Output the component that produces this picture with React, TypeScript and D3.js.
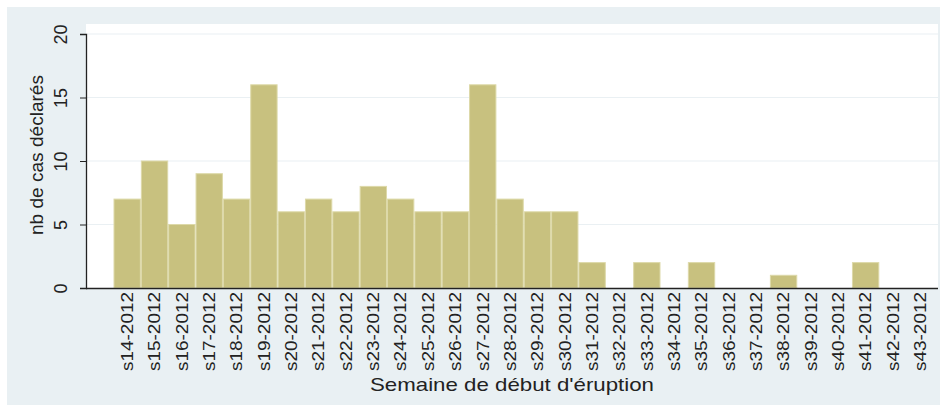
import React, { useRef, useEffect } from "react";
import * as d3 from "d3";

const weeks = [
  "s14-2012", "s15-2012", "s16-2012", "s17-2012", "s18-2012", "s19-2012",
  "s20-2012", "s21-2012", "s22-2012", "s23-2012", "s24-2012", "s25-2012",
  "s26-2012", "s27-2012", "s28-2012", "s29-2012", "s30-2012", "s31-2012",
  "s32-2012", "s33-2012", "s34-2012", "s35-2012", "s36-2012", "s37-2012",
  "s38-2012", "s39-2012", "s40-2012", "s41-2012", "s42-2012", "s43-2012",
];
const cases = [
  7, 10, 5, 9, 7, 16, 6, 7, 6, 8, 7, 6, 6, 16, 7, 6, 6, 2,
  0, 2, 0, 2, 0, 0, 1, 0, 0, 2, 0, 0,
];
const yTicks = [0, 5, 10, 15, 20];

const App = () => {
  const svgRef = useRef<SVGSVGElement>(null);

  useEffect(() => {
    const svg = d3.select(svgRef.current);
    svg.selectAll("*").remove();
    const width = 942;
    const height = 409;
    const font = "'Liberation Sans', Arial, sans-serif";

    // outer panel
    svg.append("rect").attr("width", width).attr("height", height).attr("fill", "#ffffff");
    svg.append("rect")
      .attr("x", 7).attr("y", 7).attr("width", 933).attr("height", 398)
      .attr("fill", "#e9f0f3");
    // plot region
    svg.append("rect")
      .attr("x", 86).attr("y", 24).attr("width", 852).attr("height", 264)
      .attr("fill", "#ffffff");

    const x = d3.scaleBand().domain(weeks).range([113.5, 934]).padding(0);
    const y = d3.scaleLinear().domain([0, 20]).range([288, 34]);

    // gridlines
    svg.append("g")
      .selectAll("line")
      .data(yTicks.filter((t) => t > 0))
      .join("line")
      .attr("x1", 87).attr("x2", 938)
      .attr("y1", (d) => y(d)).attr("y2", (d) => y(d))
      .attr("stroke", "#eaf0f3").attr("stroke-width", 1.2);

    // bars
    svg.append("g")
      .selectAll("rect")
      .data(cases)
      .join("rect")
      .attr("x", (d, i) => x(weeks[i])! + 0.5)
      .attr("y", (d) => y(d))
      .attr("width", x.bandwidth() - 1)
      .attr("height", (d) => y(0) - y(d))
      .attr("fill", "#c8c17f")
      .attr("stroke", "#ddd9a9")
      .attr("stroke-width", (d) => (d > 0 ? 1 : 0));

    // y axis
    const yAxis = svg.append("g")
      .attr("transform", "translate(86,0)")
      .call(d3.axisLeft(y).tickValues(yTicks).tickSize(6).tickFormat(d3.format("d")));
    yAxis.select(".domain").attr("stroke", "#222").attr("stroke-width", 1.3);
    yAxis.selectAll(".tick line").attr("stroke", "#222");
    yAxis.selectAll(".tick text")
      .attr("font-family", font).attr("font-size", 18).attr("fill", "#222")
      .attr("transform", "rotate(-90, -25, 0)")
      .attr("x", -25).attr("dy", "0.35em").attr("y", 0)
      .attr("text-anchor", "middle");

    // x axis
    const xAxis = svg.append("g")
      .attr("transform", "translate(0,288)")
      .call(d3.axisBottom(x).tickSize(0).tickPadding(4));
    xAxis.select(".domain").attr("d", "M86,0.5H938").attr("stroke", "#222").attr("stroke-width", 1.3);
    xAxis.selectAll(".tick text")
      .attr("font-family", font).attr("font-size", 16.5).attr("fill", "#222")
      .attr("transform", "rotate(-90)")
      .attr("x", -4).attr("y", 0).attr("dy", "0.35em")
      .attr("text-anchor", "end")
      .attr("textLength", 79)
      .attr("lengthAdjust", "spacingAndGlyphs");

    // titles
    svg.append("text")
      .attr("x", 512).attr("y", 391)
      .attr("text-anchor", "middle")
      .attr("font-family", font).attr("font-size", 19).attr("fill", "#222")
      .attr("textLength", 284)
      .attr("lengthAdjust", "spacingAndGlyphs")
      .text("Semaine de début d'éruption");
    svg.append("text")
      .attr("transform", "translate(43,155) rotate(-90)")
      .attr("text-anchor", "middle")
      .attr("font-family", font).attr("font-size", 19).attr("fill", "#222")
      .attr("textLength", 160)
      .attr("lengthAdjust", "spacingAndGlyphs")
      .text("nb de cas déclarés");
  }, []);

  return (
    <svg
      ref={svgRef}
      width={942}
      height={409}
      style={{ position: "absolute", left: 0, top: 0 }}
    ></svg>
  );
};

export default App;
